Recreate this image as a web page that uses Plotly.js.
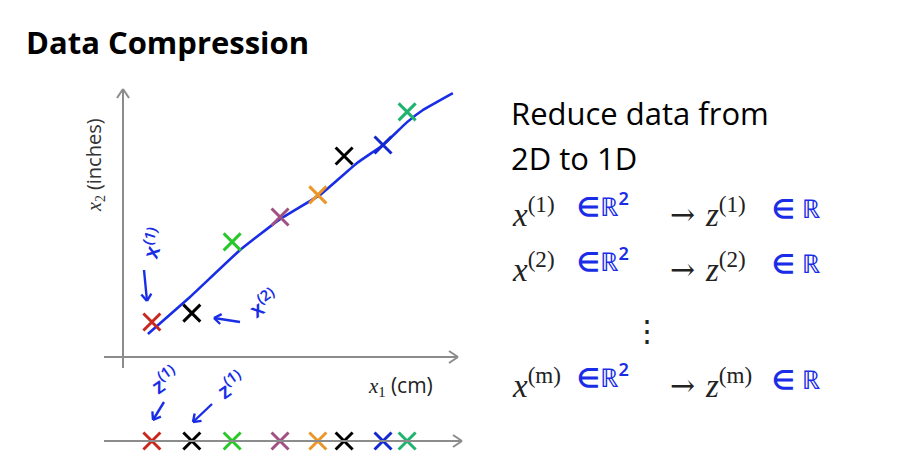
<!DOCTYPE html>
<html><head><meta charset="utf-8">
<script src="https://cdn.plot.ly/plotly-3.0.1.min.js"></script>
<style>html,body{margin:0;padding:0;background:#fff;}</style>
</head><body><div id="chart" style="width:897px;height:464px;"></div>
<script>
// Data (x1 in arbitrary cm units, x2 in arbitrary inch units)
const x1Values = [0.78, 1.89, 3.01, 4.34, 5.39, 6.12, 7.20, 7.87];
const x2Values = [1.29, 1.62, 4.27, 5.20, 6.02, 7.47, 7.88, 9.11];
const zValues  = [0.78, 1.89, 3.01, 4.34, 5.39, 6.12, 7.20, 7.87];
const pointColors = ['rgb(200,40,30)','rgb(0,0,0)','rgb(40,200,40)','rgb(160,80,130)',
                     'rgb(235,150,40)','rgb(0,0,0)','rgb(20,40,210)','rgb(30,180,110)'];
const lineX = [0.67, 1.84, 3.23, 4.34, 5.45, 6.48, 7.20, 7.87, 8.31, 9.14];
const lineY = [0.84, 2.22, 3.97, 5.12, 6.02, 7.21, 7.88, 8.73, 9.18, 9.81];
const rowIdx = ['(1)', '(2)', '(m)'];

const W = 897, H = 464;
const px = v => v / W, py = v => 1 - v / H;
const BLUE = 'rgb(25,45,230)', GRAY = 'rgb(140,140,140)';

const traces = [
  {x: lineX, y: lineY, xaxis:'x', yaxis:'y', mode:'lines', line:{color:BLUE, width:2.6, shape:'spline', smoothing:0.3}, hoverinfo:'skip'},
  {x: x1Values, y: x2Values, xaxis:'x', yaxis:'y', mode:'markers',
   marker:{symbol:'x-thin', size:17, color:pointColors, line:{width:3, color:pointColors}}},
  {x: zValues, y: zValues.map(() => 0), xaxis:'x', yaxis:'y2', mode:'markers',
   marker:{symbol:'x-thin', size:17, color:pointColors, line:{width:3, color:pointColors}}}
];

const hide = {showgrid:false, zeroline:false, showticklabels:false, showline:false, ticks:'', fixedrange:true};
const shapes = [];
function seg(x0,y0,x1,y1,color,width){ shapes.push({type:'line', xref:'paper', yref:'paper', x0:px(x0), y0:py(y0), x1:px(x1), y1:py(y1), line:{color:color||GRAY, width:width||2}}); }
// axis arrows
seg(123,368,123,89); seg(117,98,123,89); seg(129,98,123,89);
seg(104,357,458,357); seg(449,351,458,357); seg(449,363,458,357);
seg(104,441,462,441); seg(453,435,462,441); seg(453,447,462,441);
// hand-drawn blue arrows
function arrow(tx, ty, hx, hy) {
  seg(tx, ty, hx, hy, BLUE, 2.4);
  const dx = hx - tx, dy = hy - ty, L = Math.hypot(dx, dy), ux = dx / L, uy = dy / L;
  const a = 7, b = 5;
  seg(hx - a*ux + b*uy, hy - a*uy - b*ux, hx, hy, BLUE, 2.4);
  seg(hx - a*ux - b*uy, hy - a*uy + b*ux, hx, hy, BLUE, 2.4);
}
arrow(144, 270, 147, 301);
arrow(240, 322, 214, 318);
arrow(164, 402, 153, 420);
arrow(212, 404, 193, 422);

const annotations = [];
function txt(x, y, text, font, opts) {
  annotations.push(Object.assign({xref:'paper', yref:'paper', x:px(x), y:py(y), text:text, showarrow:false,
    xanchor:'left', yanchor:'middle', font:font}, opts||{}));
}
const HAND = {family:'Noto Sans', size:21, color:BLUE, weight:600};
// title
txt(24, 42, '<b>Data Compression</b>', {family:'Open Sans', size:31, color:'#000'});
// axis labels
txt(94, 165, '<i>x</i><sub>2</sub> <span style="font-family:Open Sans">(inches)</span>', {family:'Liberation Serif', size:20, color:'#333'}, {textangle:-90, xanchor:'center'});
txt(366, 385, '<i>x</i><sub>1</sub> <span style="font-family:Open Sans">(cm)</span>', {family:'Liberation Serif', size:21, color:'#222'});
// handwritten annotations
txt(153, 243, 'x<sup>(1)</sup>', HAND, {textangle:-72, xanchor:'center'});
txt(263, 302, 'x<sup>(2)</sup>', HAND, {textangle:-35, xanchor:'center'});
txt(164, 379, 'z<sup>(1)</sup>', HAND, {textangle:-35, xanchor:'center'});
txt(230, 384, 'z<sup>(1)</sup>', HAND, {textangle:-35, xanchor:'center'});
// right-hand text
const BODY = {family:'Open Sans', size:31, color:'#000'};
txt(509, 113, 'Reduce data from', BODY);
txt(509, 158, '2D to 1D', BODY);
const MATH = {family:'Liberation Serif', size:33, color:'#222'};
const rowY = [212, 267, 383];
const BLUEF = {family:'Noto Sans', size:26, color:BLUE, weight:600};
rowIdx.forEach((r, i) => {
  const y = rowY[i];
  txt(510, y, '<i>x</i><sup>' + r + '</sup>', MATH);
  txt(575, y - 7, '∈ℝ<sup>2</sup>', BLUEF);
  txt(668, y + 2, '→', {family:'DejaVu Serif', size:30, color:'#222'});
  txt(703, y, '<i>z</i><sup>' + r + '</sup>', MATH);
  txt(770, y - 4, '∈ ℝ', BLUEF);
});
txt(647, 330, '⋮', {family:'DejaVu Serif', size:30, color:'#222'}, {xanchor:'center'});

const layout = {
  width: W, height: H, margin:{l:0, r:0, t:0, b:0}, paper_bgcolor:'#fff', plot_bgcolor:'rgba(0,0,0,0)',
  showlegend:false,
  xaxis: Object.assign({domain:[104/W, 464/W], range:[-0.55, 9.45], anchor:'y'}, hide),
  yaxis: Object.assign({domain:[1-362/H, 1-88/H], range:[-0.2, 10], anchor:'x'}, hide),
  yaxis2: Object.assign({domain:[1-456/H, 1-426/H], range:[-1, 1], anchor:'x'}, hide),
  shapes: shapes, annotations: annotations
};
Plotly.newPlot('chart', traces, layout, {staticPlot:true, displayModeBar:false});
</script></body></html>
